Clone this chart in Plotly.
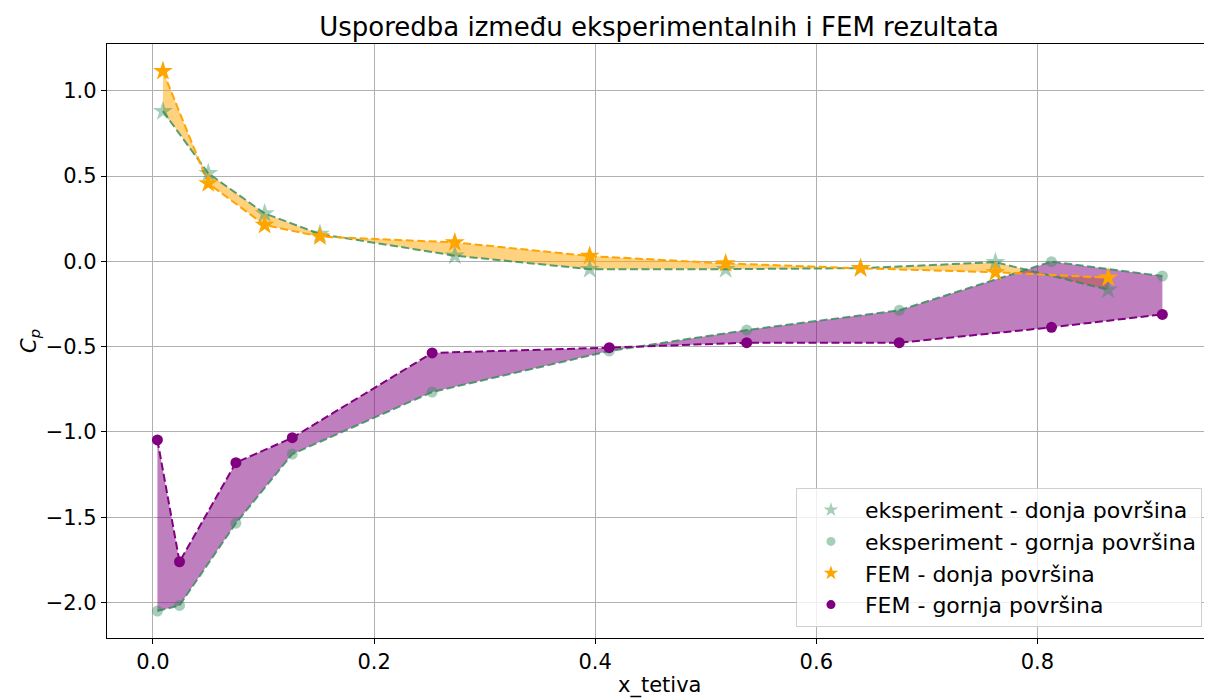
import plotly.graph_objects as go

# ---- data ----
x_lower = [0.009, 0.050, 0.101, 0.151, 0.273, 0.395, 0.518, 0.640, 0.762, 0.864]
cp_exp_lower = [0.880, 0.516, 0.281, 0.160, 0.033, -0.046, -0.046, -0.040, -0.005, -0.166]
cp_fem_lower = [1.115, 0.457, 0.213, 0.145, 0.111, 0.031, -0.012, -0.041, -0.064, -0.096]

x_upper = [0.004, 0.024, 0.075, 0.126, 0.2525, 0.4127, 0.537, 0.675, 0.8127, 0.913]
cp_exp_upper = [-2.050, -2.017, -1.535, -1.130, -0.766, -0.526, -0.403, -0.287, -0.002, -0.086]
cp_fem_upper = [-1.047, -1.761, -1.180, -1.034, -0.537, -0.506, -0.477, -0.477, -0.387, -0.311]

x_ticks = [0.0, 0.2, 0.4, 0.6, 0.8]
y_ticks = [-2.0, -1.5, -1.0, -0.5, 0.0, 0.5, 1.0]

title_text = "Usporedba između eksperimentalnih i FEM rezultata"
x_label = "x_tetiva"
y_label = "<i>C</i><sub><i>p</i></sub>"
names = ["eksperiment - donja površina", "eksperiment - gornja površina",
         "FEM - donja površina", "FEM - gornja površina"]

# ---- styles ----
FONT = "DejaVu Sans"
GREEN_MK = "rgba(46,139,87,0.42)"
GREEN_LN = "rgba(46,139,87,0.8)"
ORANGE = "#FFA500"
PURPLE = "#800080"
DASH = "8px,3.5px"

# page body has an 8px margin: positions below are in figure coordinates
L, T, PW, PH = 99, 36, 1104, 594
W, H = 1212, 698

fig = go.Figure()

# fills (orange first, purple on top)
fig.add_trace(go.Scatter(x=x_lower, y=cp_exp_lower, mode="lines", line=dict(width=0),
                         showlegend=False, hoverinfo="skip"))
fig.add_trace(go.Scatter(x=x_lower, y=cp_fem_lower, mode="lines", line=dict(width=0),
                         fill="tonexty", fillcolor="rgba(255,165,0,0.5)",
                         showlegend=False, hoverinfo="skip"))
fig.add_trace(go.Scatter(x=x_upper, y=cp_exp_upper, mode="lines", line=dict(width=0),
                         showlegend=False, hoverinfo="skip"))
fig.add_trace(go.Scatter(x=x_upper, y=cp_fem_upper, mode="lines", line=dict(width=0),
                         fill="tonexty", fillcolor="rgba(128,0,128,0.5)",
                         showlegend=False, hoverinfo="skip"))

# dashed lines
for xs, ys, c in [(x_lower, cp_exp_lower, GREEN_LN), (x_upper, cp_exp_upper, GREEN_LN),
                  (x_lower, cp_fem_lower, ORANGE), (x_upper, cp_fem_upper, PURPLE)]:
    fig.add_trace(go.Scatter(x=xs, y=ys, mode="lines",
                             line=dict(color=c, width=2, dash=DASH), showlegend=False))

# markers
specs = [(x_lower, cp_exp_lower, "star", 15, GREEN_MK),
         (x_upper, cp_exp_upper, "circle", 11, GREEN_MK),
         (x_lower, cp_fem_lower, "star", 15, ORANGE),
         (x_upper, cp_fem_upper, "circle", 11, PURPLE)]
for xs, ys, sym, sz, c in specs:
    fig.add_trace(go.Scatter(x=xs, y=ys, mode="markers", showlegend=False,
                             marker=dict(symbol=sym, size=sz, color=c, line=dict(width=0))))

# legend entries (smaller legend symbols, as in the reference)
for (xs, ys, sym, sz, c), nm in zip(specs, names):
    fig.add_trace(go.Scatter(x=[None], y=[None], mode="markers", name=nm,
                             marker=dict(symbol=sym, size=11 if sym == "star" else 9,
                                         color=c, line=dict(width=0))))

axis_common = dict(
    showline=True, linecolor="black", linewidth=1.3, mirror=True,
    ticks="outside", ticklen=5, tickwidth=1.2, tickcolor="black",
    showgrid=True, gridcolor="#b0b0b0", gridwidth=1, zeroline=False,
    tickfont=dict(family=FONT, size=21, color="black"),
    tickformat=".1f", automargin=False,
)

fig.update_layout(
    width=W, height=H,
    margin=dict(l=L, r=W - L - PW, t=T, b=H - T - PH, autoexpand=False),
    paper_bgcolor="white", plot_bgcolor="white",
    font=dict(family=FONT, color="black"),
    title=dict(text=title_text, x=0.5, xref="paper", y=1 - 19 / H, yref="container",
               xanchor="center", yanchor="middle",
               font=dict(family=FONT, size=26, color="black")),
    xaxis=dict(range=[-0.0416, 0.957], tickvals=x_ticks, **axis_common),
    yaxis=dict(range=[-2.208, 1.274], tickvals=y_ticks, **axis_common),
    legend=dict(x=0.9918, y=0.0185, xanchor="right", yanchor="bottom",
                bgcolor="rgba(255,255,255,0.8)", bordercolor="#d0d0d0", borderwidth=1,
                font=dict(family=FONT, size=22, color="black"), itemwidth=58,
                traceorder="normal"),
    annotations=[
        dict(text=x_label, xref="paper", yref="paper", x=0.5, y=-47 / PH,
             xanchor="center", yanchor="middle", showarrow=False,
             font=dict(family=FONT, size=21, color="black")),
        dict(text=y_label, xref="paper", yref="paper", x=-(L - 22) / PW, y=0.5,
             xanchor="center", yanchor="middle", showarrow=False, textangle=-90,
             font=dict(family=FONT, size=21, color="black")),
    ],
)

fig.write_html("out.html")
